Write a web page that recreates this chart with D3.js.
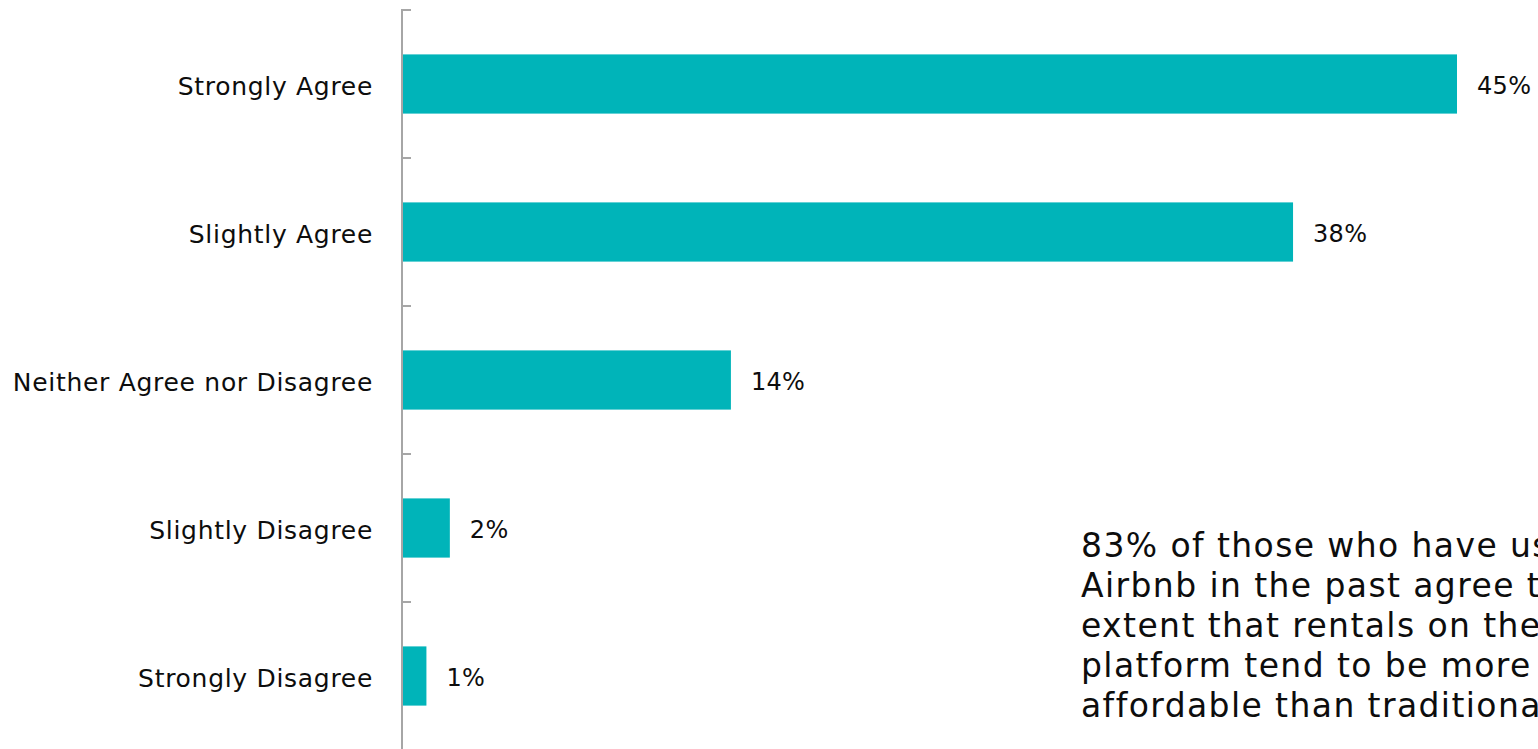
<!DOCTYPE html>
<html>
<head>
<meta charset="utf-8">
<script src="https://cdn.jsdelivr.net/npm/d3@7"></script>
<style>
  html, body { margin: 0; padding: 0; background: #fff; overflow: hidden; }
  svg { display: block; font-family: "DejaVu Sans", "Noto Sans", sans-serif; }
</style>
</head>
<body>
<svg id="chart" width="1538" height="749"></svg>
<script>
// Survey responses: rentals on the platform tend to be more affordable
const categories = ["Strongly Agree", "Slightly Agree", "Neither Agree nor Disagree", "Slightly Disagree", "Strongly Disagree"];
const values = [45, 38, 14, 2, 1];
const valueLabels = ["45%", "38%", "14%", "2%", "1%"];
const noteLines = [
  "83% of those who have used",
  "Airbnb in the past agree to some",
  "extent that rentals on the",
  "platform tend to be more",
  "affordable than traditional hotels."
];

const W = 1538, H = 749;
const margin = { top: 10, right: 0, bottom: 0, left: 403 };
const barColor = "#00B4B9";
const axisColor = "#A6A6A6";
const textColor = "#0d0d0d";

const svg = d3.select("#chart");

const x = d3.scaleLinear().domain([0, 45]).range([margin.left, 1457]);
const y = d3.scaleBand()
  .domain(categories)
  .range([margin.top, 750])
  .paddingInner(0.6)
  .paddingOuter(0.3);

// Bars
svg.append("g")
  .selectAll("rect")
  .data(categories)
  .join("rect")
  .attr("x", x(0))
  .attr("y", d => y(d))
  .attr("width", (d, i) => x(values[i]) - x(0))
  .attr("height", y.bandwidth())
  .attr("fill", barColor);

// Category axis (labels only, no tick marks)
const axis = svg.append("g")
  .attr("transform", `translate(${x(0)},0)`)
  .call(d3.axisLeft(y).tickSize(0).tickPadding(30));
axis.select(".domain").remove();
axis.selectAll("text")
  .attr("fill", textColor)
  .attr("dy", "0.42em")
  .style("font-size", "25px")
  .style("letter-spacing", "0.7px")
  .style("font-family", "DejaVu Sans, sans-serif");

// Axis line and tick marks at the band boundaries
const half = y.step() * y.paddingInner() / 2;
const boundaries = categories.map(c => y(c) - half)
  .concat([y(categories[categories.length - 1]) + y.bandwidth() + half]);
const ax = svg.append("g");
ax.append("line")
  .attr("x1", x(0) - 1).attr("x2", x(0) - 1)
  .attr("y1", boundaries[0]).attr("y2", H)
  .attr("stroke", axisColor).attr("stroke-width", 2);
ax.selectAll("line.tick")
  .data(boundaries)
  .join("line")
  .attr("class", "tick")
  .attr("x1", x(0) - 2).attr("x2", x(0) + 8)
  .attr("y1", d => d).attr("y2", d => d)
  .attr("stroke", axisColor).attr("stroke-width", 2);

// Value labels
svg.append("g")
  .selectAll("text")
  .data(categories)
  .join("text")
  .attr("x", (d, i) => x(values[i]) + 20)
  .attr("y", d => y(d) + y.bandwidth() / 2)
  .attr("dy", "0.4em")
  .attr("fill", textColor)
  .style("font-size", "24px")
  .style("letter-spacing", "0.3px")
  .text((d, i) => valueLabels[i]);

// Annotation
svg.append("text")
  .attr("x", 1081)
  .attr("y", 557)
  .attr("fill", textColor)
  .style("font-size", "33px")
  .style("letter-spacing", "1.4px")
  .selectAll("tspan")
  .data(noteLines)
  .join("tspan")
  .attr("x", 1081)
  .attr("dy", (d, i) => i === 0 ? 0 : 40)
  .text(d => d);
</script>
</body>
</html>
